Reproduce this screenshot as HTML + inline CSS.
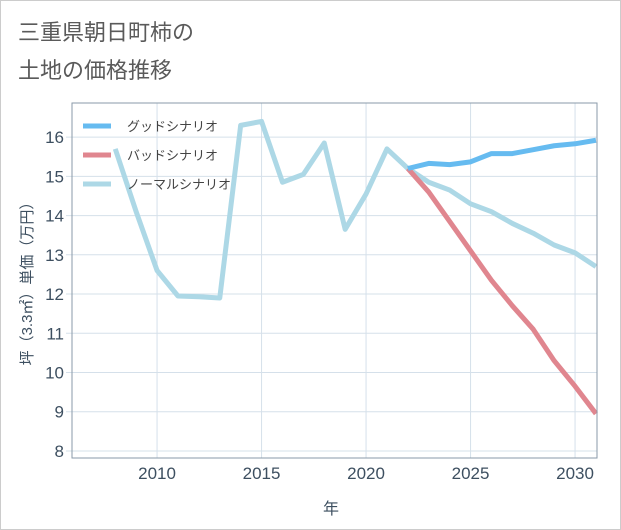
<!DOCTYPE html>
<html><head><meta charset="utf-8"><style>
body{margin:0;background:#fff;}
svg{display:block;font-family:"Liberation Sans","Noto Sans CJK JP",sans-serif;}
</style></head><body>
<svg id="c" width="621" height="530">
<rect x="0.5" y="0.5" width="620" height="529" fill="#fff" stroke="#ccc"/>
<text x="18" y="40" font-size="22" fill="#5a5a5a">三重県朝日町柿の</text>
<text x="18" y="78" font-size="22" fill="#5a5a5a">土地の価格推移</text>
<g id="grid"></g>
<g id="lines"></g>
<g id="axes"></g>
<g id="legend"></g>
<text x="331" y="514" font-size="16" fill="#3d4f60" text-anchor="middle">年</text>
<text transform="translate(32,280) rotate(-90)" font-size="15" fill="#3d4f60" text-anchor="middle">坪（3.3㎡）単価（万円）</text>
</svg>
<script>
const years=[2008,2009,2010,2011,2012,2013,2014,2015,2016,2017,2018,2019,2020,2021,2022,2023,2024,2025,2026,2027,2028,2029,2030,2031];
const normal=[15.7,14.1,12.6,11.95,11.93,11.9,16.3,16.4,14.85,15.05,15.85,13.65,14.55,15.7,15.2,14.85,14.65,14.3,14.1,13.8,13.55,13.25,13.05,12.7];
const goodYears=[2022,2023,2024,2025,2026,2027,2028,2029,2030,2031];
const good=[15.2,15.33,15.3,15.37,15.58,15.58,15.68,15.78,15.83,15.92];
const bad=[15.2,14.6,13.85,13.1,12.35,11.7,11.1,10.3,9.65,8.95];
const xTicks=[2010,2015,2020,2025,2030];
const yTicks=[8,9,10,11,12,13,14,15,16];
const L=72,R=597,T=103,B=458,x0=2005.93,x1=2031.05,y0=7.82,y1=16.87;
const X=v=>L+(v-x0)/(x1-x0)*(R-L);
const Y=v=>B-(v-y0)/(y1-y0)*(B-T);
const NS='http://www.w3.org/2000/svg';
function mk(tag,attrs,parent){const e=document.createElementNS(NS,tag);for(const k in attrs)e.setAttribute(k,attrs[k]);document.getElementById(parent).appendChild(e);return e;}
xTicks.forEach(t=>{const l=mk('line',{x1:X(t),x2:X(t),y1:T,y2:B,stroke:'#d5e0ea'},'grid');


const tx=mk('text',{x:X(t),y:479,'font-size':17,fill:'#3d4f60','text-anchor':'middle'},'axes');tx.textContent=t;

});
yTicks.forEach(t=>{const l=mk('line',{x1:L-6,x2:R,y1:Y(t),y2:Y(t),stroke:'#d5e0ea'},'grid');


const tx=mk('text',{x:L-8,y:Y(t)+6,'font-size':17,fill:'#3d4f60','text-anchor':'end'},'axes');tx.textContent=t;

});
const fr=mk('rect',{x:L,y:T,width:R-L,height:B-T,fill:'none',stroke:'#8a9aa8'},'axes');


function line(xs,vs,color,name){const p=mk('polyline',{points:xs.map((v,i)=>X(v)+','+Y(vs[i])).join(' '),fill:'none',stroke:color,'stroke-width':5,'stroke-linejoin':'round'},'lines');

}
line(years,normal,'#add8e6','normal-scenario-line');
line(goodYears,bad,'#e0868f','bad-scenario-line');
line(goodYears,good,'#66bbf0','good-scenario-line');
const leg=[['グッドシナリオ','#66bbf0'],['バッドシナリオ','#e0868f'],['ノーマルシナリオ','#add8e6']];
leg.forEach((d,i)=>{const y=126+i*29;
const l=mk('line',{x1:83,x2:111,y1:y,y2:y,stroke:d[1],'stroke-width':5},'legend');


const t=mk('text',{x:127,y:y+5,'font-size':13,fill:'#444'},'legend');t.textContent=d[0];

});
</script>
</body></html>
